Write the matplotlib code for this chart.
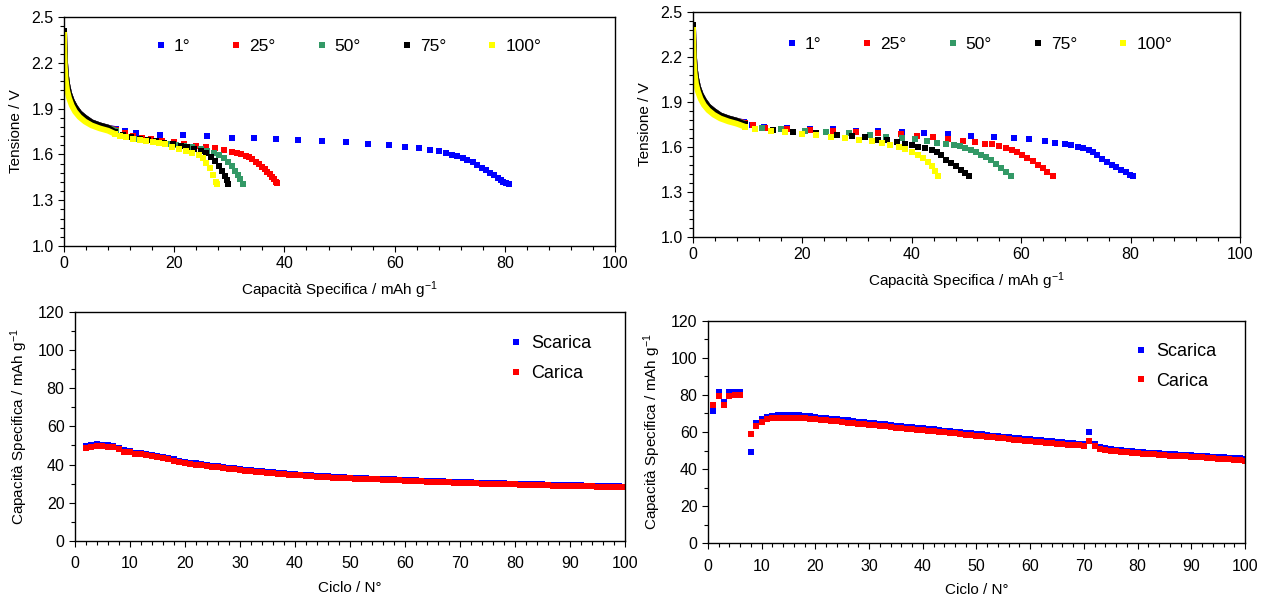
import matplotlib
matplotlib.use("Agg")
import matplotlib.pyplot as plt
from matplotlib.ticker import MultipleLocator, FormatStrFormatter

plt.rcParams['font.family'] = ['Liberation Sans', 'DejaVu Sans']
plt.rcParams['mathtext.default'] = 'regular'

# ---------------- data: discharge curves, left panel ----------------
TEMP_LABELS = ['1°', '25°', '50°', '75°', '100°']
COLORS = ['#0000FF', '#FF0000', '#339966', '#000000', '#FFFF00']

# steep start of the discharge (drawn dense in the reference)
head_x = [0, 0.05, 0.15, 0.3, 0.55, 0.9, 1.4, 2.0, 2.8, 3.8, 5.0, 6.5, 8.0]
head_y_hi = [2.41, 2.33, 2.22, 2.13, 2.06, 2.00, 1.95, 1.91, 1.87, 1.84, 1.81, 1.79, 1.775]
head_y_lo = [2.38, 2.28, 2.17, 2.09, 2.02, 1.97, 1.92, 1.88, 1.845, 1.815, 1.79, 1.77, 1.755]

l_blue_x = [9.5, 11, 13, 17.5, 21.5, 26, 30.5, 34.5, 38.5, 42.5, 46.9, 51.1, 55.1, 58.9, 61.8,
            64.4, 66.4, 68.1, 69.3, 70.5, 71.4, 72.4, 73.2, 74.3, 75.0, 75.8, 76.5, 77.3, 78.0,
            78.8, 79.3, 79.7, 80.2, 80.7]
l_blue_y = [1.765, 1.75, 1.74, 1.73, 1.725, 1.72, 1.71, 1.705, 1.70, 1.695, 1.69, 1.681, 1.67,
            1.662, 1.648, 1.64, 1.631, 1.622, 1.607, 1.596, 1.588, 1.575, 1.565, 1.548, 1.528,
            1.509, 1.495, 1.48, 1.464, 1.447, 1.433, 1.421, 1.413, 1.406]
l_red_x = [9.5, 11, 12.5, 14.1, 15.8, 17.7, 19.9, 21.8, 23.9, 25.7, 27.4, 29.0, 30.5, 31.4, 32.2,
           33.0, 33.6, 34.2, 34.8, 35.4, 36.0, 36.5, 36.9, 37.3, 37.7, 38.1, 38.4, 38.6]
l_red_y = [1.76, 1.74, 1.72, 1.707, 1.698, 1.689, 1.678, 1.667, 1.657, 1.65, 1.641, 1.63, 1.617,
           1.611, 1.602, 1.59, 1.58, 1.567, 1.552, 1.537, 1.52, 1.503, 1.487, 1.471, 1.455,
           1.438, 1.422, 1.41]
l_green_x = [9.5, 11.3, 13.1, 14.9, 16.7, 18.8, 20.3, 21.8, 23.3, 24.8, 26.0, 27.2, 28.1, 29.0,
             29.8, 30.5, 31.1, 31.6, 32.0, 32.5]
l_green_y = [1.755, 1.715, 1.704, 1.69, 1.68, 1.67, 1.663, 1.657, 1.648, 1.637, 1.624, 1.611,
             1.596, 1.576, 1.552, 1.524, 1.493, 1.465, 1.437, 1.406]
l_black_x = [9.3, 10.7, 12.2, 13.7, 15.2, 16.7, 18.2, 19.7, 21.2, 22.4, 23.6, 24.8, 25.7, 26.6,
             27.4, 28.1, 28.7, 29.2, 29.6, 29.8]
l_black_y = [1.745, 1.726, 1.715, 1.704, 1.693, 1.685, 1.676, 1.667, 1.657, 1.648, 1.637, 1.624,
             1.607, 1.585, 1.559, 1.526, 1.493, 1.46, 1.432, 1.406]
l_yellow_x = [9.2, 10.2, 11.3, 12.5, 13.7, 14.9, 16.1, 17.2, 18.3, 19.6, 20.9, 22.1, 23.3, 24.5,
              25.2, 25.8, 26.4, 27.0, 27.5, 27.7]
l_yellow_y = [1.735, 1.72, 1.711, 1.704, 1.696, 1.689, 1.683, 1.672, 1.665, 1.65, 1.635, 1.624,
              1.611, 1.596, 1.574, 1.541, 1.509, 1.465, 1.422, 1.404]

# ---------------- data: discharge curves, right panel ----------------
r_blue_x = [9.4, 10.8, 13.0, 17.2, 21.4, 25.5, 29.8, 33.9, 38.2, 42.3, 46.6, 50.9, 55.0, 58.7,
            61.5, 64.3, 66.2, 68.0, 69.1, 70.3, 71.3, 72.3, 73.1, 73.9, 74.8, 75.7, 76.6, 77.4,
            78.3, 79.1, 79.9, 80.4]
r_blue_y = [1.764, 1.747, 1.736, 1.727, 1.722, 1.72, 1.707, 1.704, 1.70, 1.691, 1.686, 1.676,
            1.669, 1.66, 1.651, 1.638, 1.629, 1.62, 1.613, 1.602, 1.593, 1.58, 1.564, 1.544,
            1.522, 1.50, 1.482, 1.464, 1.449, 1.431, 1.416, 1.404]
r_red_x = [9.5, 11, 13.2, 17.2, 21.4, 25.5, 29.8, 33.9, 38.1, 41.0, 43.8, 46.7, 49.3, 51.5, 53.4,
           54.6, 56.0, 57.2, 58.4, 59.3, 60.2, 61.1, 62.1, 63.0, 63.9, 64.8, 65.8]
r_red_y = [1.76, 1.745, 1.729, 1.722, 1.716, 1.709, 1.702, 1.696, 1.684, 1.673, 1.664, 1.656,
           1.642, 1.631, 1.622, 1.618, 1.604, 1.593, 1.578, 1.564, 1.549, 1.527, 1.504, 1.482,
           1.46, 1.433, 1.404]
r_green_x = [9.5, 12.7, 16.1, 20.4, 24.4, 28.6, 32.4, 35.3, 38.2, 40.6, 42.7, 44.6, 46.3, 47.8,
             48.8, 49.8, 50.8, 51.7, 52.6, 53.5, 54.5, 55.4, 56.3, 57.2, 58.1]
r_green_y = [1.755, 1.727, 1.718, 1.709, 1.698, 1.693, 1.682, 1.669, 1.66, 1.651, 1.642, 1.625,
             1.618, 1.611, 1.604, 1.596, 1.582, 1.564, 1.549, 1.531, 1.511, 1.489, 1.46, 1.431,
             1.404]
r_black_x = [9.5, 14.7, 18.2, 22.4, 26.4, 29.1, 31.5, 33.9, 35.5, 37.3, 38.7, 40.0, 41.2, 42.4,
             43.6, 44.6, 45.4, 46.3, 47.2, 48.1, 49.0, 49.8, 50.4]
r_black_y = [1.75, 1.716, 1.702, 1.693, 1.682, 1.671, 1.664, 1.649, 1.644, 1.631, 1.62, 1.611,
             1.602, 1.593, 1.582, 1.565, 1.544, 1.516, 1.493, 1.471, 1.449, 1.427, 1.404]
r_yellow_x = [9.5, 11.4, 14.2, 16.8, 19.9, 22.5, 25.2, 27.8, 30.3, 32.7, 34.5, 36.1, 37.6, 38.8,
              40.0, 41.1, 42.1, 42.9, 43.6, 44.2, 44.8]
r_yellow_y = [1.735, 1.72, 1.709, 1.698, 1.687, 1.678, 1.669, 1.658, 1.647, 1.638, 1.624, 1.613,
              1.602, 1.587, 1.569, 1.549, 1.524, 1.498, 1.471, 1.442, 1.404]

# ---------------- data: cycling ----------------
cyc_left = list(range(2, 101))
left_scarica = [49.6, 50.3, 50.8, 50.3, 50.0, 49.6, 48.8, 47.4, 47.0,
                46.3, 46.1, 45.5, 45.0, 44.5, 43.9, 43.3, 42.7, 42.1, 41.6,
                41.0, 40.6, 40.2, 39.8, 39.4, 39.1, 38.7, 38.3, 38.0, 37.7,
                37.4, 37.1, 36.8, 36.5, 36.2, 36.0, 35.7, 35.5, 35.2, 35.0,
                34.8, 34.6, 34.4, 34.2, 34.0, 33.8, 33.7, 33.5, 33.4, 33.2,
                33.1, 32.9, 32.8, 32.7, 32.6, 32.5, 32.3, 32.2, 32.1, 32.0,
                31.8, 31.7, 31.6, 31.5, 31.4, 31.3, 31.2, 31.1, 31.0, 30.9,
                30.8, 30.7, 30.6, 30.5, 30.4, 30.3, 30.2, 30.2, 30.1, 30.0,
                29.9, 29.8, 29.7, 29.7, 29.6, 29.5, 29.4, 29.4, 29.3, 29.2,
                29.2, 29.1, 29.0, 29.0, 28.9, 28.8, 28.7, 28.7, 28.6, 28.5]
left_carica = [48.9, 49.4, 49.7, 49.6, 49.4, 49.0, 48.2, 46.8, 46.4,
               45.7, 45.6, 44.9, 44.5, 44.0, 43.3, 42.8, 42.1, 41.6, 41.0,
               40.5, 40.0, 39.6, 39.2, 38.9, 38.6, 38.2, 37.8, 37.5, 37.2,
               36.9, 36.6, 36.3, 36.0, 35.7, 35.5, 35.2, 35.0, 34.7, 34.5,
               34.3, 34.1, 33.9, 33.7, 33.5, 33.4, 33.2, 33.1, 33.0, 32.8,
               32.7, 32.5, 32.4, 32.3, 32.2, 32.1, 31.9, 31.8, 31.7, 31.6,
               31.4, 31.3, 31.2, 31.1, 31.0, 30.9, 30.8, 30.7, 30.6, 30.5,
               30.4, 30.3, 30.2, 30.1, 30.0, 29.9, 29.8, 29.8, 29.7, 29.6,
               29.5, 29.4, 29.3, 29.3, 29.2, 29.1, 29.0, 29.0, 28.9, 28.8,
               28.8, 28.7, 28.6, 28.6, 28.5, 28.4, 28.3, 28.3, 28.2, 28.1]

cyc_right = [1, 2, 3, 4, 5, 6] + list(range(8, 101))
right_scarica = [71.2, 81.5, 76.0, 81.3, 81.8, 81.3, 49.0, 64.8, 67.0,
                 68.3, 68.8, 69.0, 69.2, 69.2, 69.0, 68.9, 68.7, 68.4, 68.1,
                 67.8, 67.5, 67.1, 66.8, 66.5, 66.2, 65.9, 65.6, 65.3, 65.0,
                 64.7, 64.4, 64.1, 63.8, 63.5, 63.2, 62.9, 62.6, 62.3, 62.0,
                 61.7, 61.4, 61.1, 60.8, 60.5, 60.2, 59.9, 59.6, 59.3, 59.0,
                 58.7, 58.4, 58.1, 57.8, 57.5, 57.2, 56.9, 56.6, 56.3, 56.0,
                 55.7, 55.5, 55.2, 55.0, 54.7, 54.5, 54.2, 54.0, 53.8, 53.6,
                 59.8, 53.3, 52.0, 51.3, 50.8, 50.5, 50.2, 49.9, 49.6, 49.3,
                 49.1, 48.9, 48.7, 48.5, 48.3, 48.1, 47.9, 47.8, 47.6, 47.4,
                 47.2, 47.0, 46.8, 46.6, 46.5, 46.3, 46.1, 46.0, 45.8, 45.6]
right_carica = [74.5, 79.6, 74.5, 79.5, 80.0, 80.0, 59.0, 63.2, 65.3,
                66.8, 67.3, 67.6, 67.8, 67.8, 67.6, 67.5, 67.3, 67.1, 66.9,
                66.6, 66.3, 66.0, 65.7, 65.4, 65.1, 64.8, 64.5, 64.2, 63.9,
                63.6, 63.3, 63.0, 62.7, 62.4, 62.1, 61.8, 61.5, 61.2, 61.0,
                60.7, 60.4, 60.1, 59.8, 59.5, 59.2, 58.9, 58.6, 58.3, 58.0,
                57.7, 57.4, 57.1, 56.8, 56.5, 56.2, 55.9, 55.6, 55.3, 55.0,
                54.7, 54.5, 54.2, 54.0, 53.7, 53.5, 53.2, 53.0, 52.8, 52.7,
                55.4, 52.2, 51.0, 50.3, 49.9, 49.6, 49.3, 49.0, 48.7, 48.5,
                48.3, 48.1, 47.9, 47.7, 47.5, 47.3, 47.2, 47.0, 46.8, 46.7,
                46.5, 46.3, 46.1, 45.9, 45.7, 45.5, 45.3, 45.1, 44.9, 44.6]

MS = 3.7
CAP_LABEL = 'Capacità Specifica / mAh g$^{-1}$'

fig = plt.figure(figsize=(12.66, 6.01), dpi=100)
ax_tl = fig.add_axes([0.0506, 0.5907, 0.4352, 0.3810])
ax_tr = fig.add_axes([0.5474, 0.6057, 0.4321, 0.3744])
ax_bl = fig.add_axes([0.0592, 0.0998, 0.4344, 0.3815])
ax_br = fig.add_axes([0.5592, 0.0960, 0.4242, 0.3704])


def style_axes(ax):
    for s in ax.spines.values():
        s.set_linewidth(1.0)
    ax.tick_params(which='both', direction='out', length=4, width=0.8, labelsize=11.5,
                   top=False, right=False)
    ax.tick_params(which='minor', length=3)


def plot_discharge(ax, series):
    for (x, y, head_y), color, label in zip(series, COLORS, TEMP_LABELS):
        # dense start of the curve drawn as a thick line
        ax.plot(head_x + x[:1], head_y + y[:1], '-', color=color, lw=4.2,
                solid_capstyle='butt', zorder=2)
        ax.plot(head_x[:1], head_y[:1], 's', color=color, ms=MS, mew=0, zorder=2)
        ax.plot(x, y, 's', color=color, ms=MS, mew=0, label=label, zorder=2)
    ax.set_xlim(0, 100)
    ax.set_ylim(1.0, 2.5)
    ax.xaxis.set_major_locator(MultipleLocator(20))
    ax.xaxis.set_minor_locator(MultipleLocator(4))
    ax.yaxis.set_major_locator(MultipleLocator(0.3, offset=0.1))
    ax.yaxis.set_minor_locator(MultipleLocator(0.06, offset=0.04))
    ax.yaxis.set_major_formatter(FormatStrFormatter('%.1f'))
    ax.set_xlabel(CAP_LABEL, fontsize=11, labelpad=6)
    ax.set_ylabel('Tensione / V', fontsize=11, labelpad=6)
    style_axes(ax)


left_series = [(l_blue_x, l_blue_y, head_y_hi), (l_red_x, l_red_y, head_y_hi),
               (l_green_x, l_green_y, head_y_hi), (l_black_x, l_black_y, head_y_hi),
               (l_yellow_x, l_yellow_y, head_y_lo)]
right_series = [(r_blue_x, r_blue_y, head_y_hi), (r_red_x, r_red_y, head_y_hi),
                (r_green_x, r_green_y, head_y_hi), (r_black_x, r_black_y, head_y_hi),
                (r_yellow_x, r_yellow_y, head_y_lo)]
plot_discharge(ax_tl, left_series)
plot_discharge(ax_tr, right_series)

leg_kw = dict(ncol=5, frameon=False, fontsize=12.5, handlelength=0.5, handletextpad=0.5,
              columnspacing=2.4, borderaxespad=0, markerscale=1.0, loc='center left')
ax_tl.legend(bbox_to_anchor=(0.155, 0.87), **leg_kw)
ax_tr.legend(bbox_to_anchor=(0.16, 0.855), **leg_kw)


def plot_cycles(ax, cyc, scarica, carica, anchor):
    ax.plot(cyc, scarica, 's', color='#0000FF', ms=MS + 0.3, mew=0, label='Scarica')
    ax.plot(cyc, carica, 's', color='#FF0000', ms=MS + 0.3, mew=0, label='Carica')
    ax.set_xlim(0, 100)
    ax.set_ylim(0, 120)
    ax.xaxis.set_major_locator(MultipleLocator(10))
    ax.xaxis.set_minor_locator(MultipleLocator(2))
    ax.yaxis.set_major_locator(MultipleLocator(20))
    ax.yaxis.set_minor_locator(MultipleLocator(10))
    ax.set_xlabel('Ciclo / N°', fontsize=11, labelpad=7)
    ax.set_ylabel(CAP_LABEL, fontsize=11, labelpad=6)
    style_axes(ax)
    ax.tick_params(axis='x', pad=7)
    ax.legend(loc='center left', bbox_to_anchor=anchor, frameon=False, fontsize=13,
              handlelength=0.5, handletextpad=0.6, labelspacing=0.7, borderaxespad=0)


plot_cycles(ax_bl, cyc_left, left_scarica, left_carica, (0.78, 0.795))
plot_cycles(ax_br, cyc_right, right_scarica, right_carica, (0.785, 0.795))

fig.savefig('out.png', dpi=100)
